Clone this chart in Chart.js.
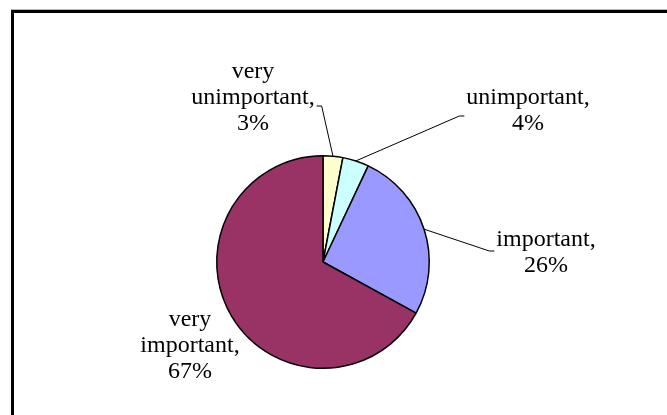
<!DOCTYPE html>
<html>
<head>
<meta charset="utf-8">
<script src="https://cdn.jsdelivr.net/npm/chart.js@4.4.0/dist/chart.umd.min.js"></script>
<style>
  html, body { margin: 0; padding: 0; background: #fff; overflow: hidden; }
  #frame { position: absolute; left: 11px; top: 10px; width: 700px; height: 450px;
    border-left: 3px solid #000; border-top: 3px solid #000; box-shadow: 0 -1px 0 #b8b8b8; }
  #wrap { position: absolute; left: 0; top: 0; width: 667px; height: 415px; }
</style>
</head>
<body>
<div id="frame"></div>
<div id="wrap"><canvas id="pieChart"></canvas></div>
<script>
// 응답 비율 (%)
const categories = ['very unimportant', 'unimportant', 'important', 'very important'];
const shares = [3, 4, 26, 67];
const sliceColors = ['#FFFFCC', '#CCFFFF', '#9999FF', '#993366'];

// 라벨 블록 중심 (파이 중심 기준 px), 지시선 붙는 쪽과 y 보정
const labelPlacement = [
    { dx: -70, dy: -164, side: 'right', ly: 8 },
    { dx: 205, dy: -151, side: 'left', ly: 5 },
    { dx: 223, dy: -9, side: 'left', ly: -2 },
    { dx: -133, dy: 84, side: null, ly: 0 }
];

const LINE_H = 26;
const LABEL_FONT = '24px "Liberation Serif", "Times New Roman", serif';

const sliceLabels = {
    id: 'sliceLabels',
    afterDatasetsDraw(chart) {
        const ctx = chart.ctx;
        const meta = chart.getDatasetMeta(0);
        ctx.save();
        ctx.font = LABEL_FONT;
        ctx.fillStyle = '#000';
        ctx.strokeStyle = '#000';
        ctx.lineWidth = 1;
        ctx.textAlign = 'center';
        ctx.textBaseline = 'middle';
        meta.data.forEach((arc, i) => {
            const p = arc.getProps(['x', 'y', 'startAngle', 'endAngle', 'outerRadius'], true);
            const place = labelPlacement[i];
            const words = categories[i].split(' ');
            words[words.length - 1] += ',';
            const lines = words.concat([shares[i] + '%']);
            const cx = p.x + place.dx;
            const cy = p.y + place.dy;
            let maxW = 0;
            lines.forEach((t, k) => {
                maxW = Math.max(maxW, ctx.measureText(t).width);
                ctx.fillText(t, cx, cy + (k - (lines.length - 1) / 2) * LINE_H);
            });
            if (place.side) {
                const mid = (p.startAngle + p.endAngle) / 2;
                const ax = p.x + Math.cos(mid) * p.outerRadius;
                const ay = p.y + Math.sin(mid) * p.outerRadius;
                const dir = place.side === 'right' ? 1 : -1;
                const ex = cx + dir * (maxW / 2 + 2);
                const ey = cy + place.ly;
                ctx.beginPath();
                ctx.moveTo(ax, ay);
                ctx.lineTo(ex + dir * 5, ey);
                ctx.lineTo(ex, ey);
                ctx.stroke();
            }
        });
        ctx.restore();
    }
};

new Chart(document.getElementById('pieChart'), {
    type: 'pie',
    data: {
        labels: categories,
        datasets: [{
            data: shares,
            backgroundColor: sliceColors,
            borderColor: '#000',
            borderWidth: 1.5
        }]
    },
    options: {
        responsive: true,
        maintainAspectRatio: false,
        animation: false,
        layout: { padding: { left: 216, right: 237, top: 155, bottom: 46 } },
        plugins: { legend: { display: false }, tooltip: { enabled: false } }
    },
    plugins: [sliceLabels]
});
</script>
</body>
</html>
